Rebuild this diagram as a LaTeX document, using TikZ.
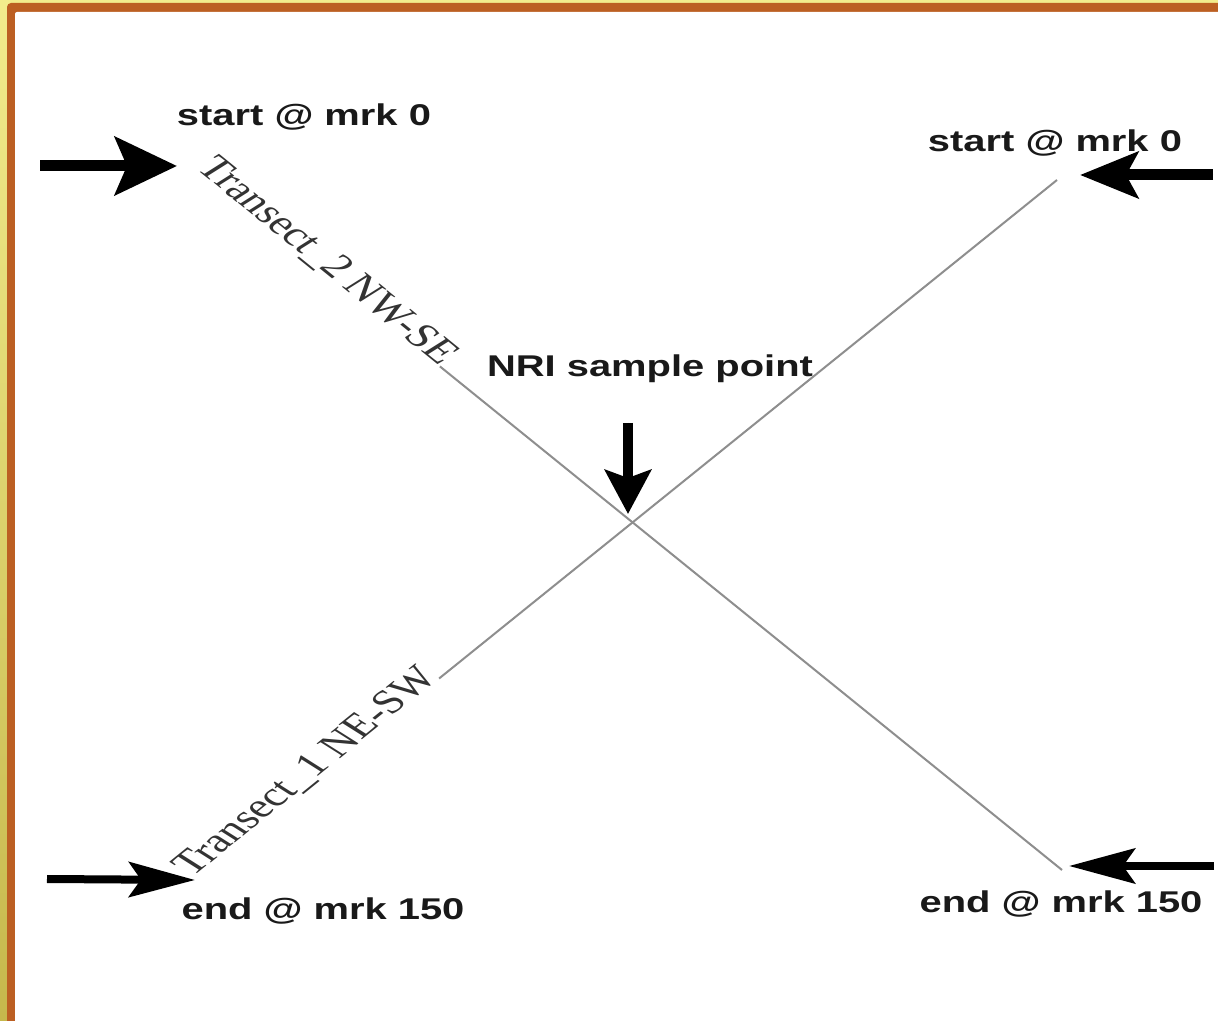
\documentclass[tikz,border=0pt]{standalone}
\usepackage{fontspec}
\setmainfont{Liberation Sans}[FakeStretch=1.33]
\newfontfamily\transectfont{Liberation Serif}
\usetikzlibrary{arrows.meta}

\definecolor{frameorange}{HTML}{BC5F22}
\definecolor{frameyellowtop}{HTML}{F2EC8C}
\definecolor{frameyellowbot}{HTML}{C6B84C}
\definecolor{transectgray}{HTML}{8E8E8E}

\tikzset{
  marker/.style={font=\bfseries\fontsize{30}{30}\selectfont, text=black!90, inner sep=0pt, anchor=base},
  transectlbl/.style={font=\transectfont\fontsize{34}{34}\selectfont, text=black!80,
                      inner sep=0pt, anchor=base west},
  transect/.style={draw=transectgray, line width=2pt},
  pointer/.style={draw=black, fill=black, line width=#1},
  bighead/.style={-{Stealth[length=62pt, width=58pt, inset=12pt]}},
  midhead/.style={-{Stealth[length=58pt, width=46pt, inset=12pt]}},
  downhead/.style={-{Stealth[length=44pt, width=46pt, inset=8pt]}},
  smallhead/.style={-{Stealth[length=66pt, width=35pt, inset=12pt]}}
}

\begin{document}
\begin{tikzpicture}[x=1pt, y=1pt]
  \useasboundingbox (0,0) rectangle (1218,1020);

  % frame: yellow edge, orange border, white sheet
  \begin{scope}
    \clip (0,0) rectangle (1218,1020);
    \shade[top color=frameyellowtop, bottom color=frameyellowbot] (0,0) rectangle (1218,1020);
    \fill[frameorange, rounded corners=4pt] (7,1017) rectangle (1240,-20);
    \fill[white, rounded corners=2pt] (15,1008) rectangle (1240,-20);
  \end{scope}

  % transect end points
  \coordinate (nw) at (195,852);
  \coordinate (se) at (1062,150);
  \coordinate (ne) at (1057,840);
  \coordinate (sw) at (192,142);

  % transect labels, written along their lines
  \begin{scope}[shift={(sw)}]
    \node[transectlbl, xscale=1.4, rotate=48.5] (lblone) at (0,0) {Transect\_1 NE-SW};
  \end{scope}
  \begin{scope}[shift={(nw)}]
    \node[transectlbl, xscale=1.4, rotate=-48.6] (lbltwo) at (0,0) {Transect\_2 NW-SE};
  \end{scope}

  % transect lines
  \draw[transect] (ne) -- (lblone.base east);
  \draw[transect] (lbltwo.base east) -- (se);

  % marker texts
  \node[marker] (startnw) at (304,894) {start @ mrk 0};
  \node[marker] (startne) at (1055,868) {start @ mrk 0};
  \node[marker] (nri)     at (650,643) {NRI sample point};
  \node[marker] (endsw)   at (323,100) {end @ mrk 150};
  \node[marker] (endse)   at (1061,107) {end @ mrk 150};

  % pointer arrows
  \coordinate (p1tail) at (40,854);   \coordinate (p1tip) at (177,854);
  \coordinate (p2tail) at (1213,845); \coordinate (p2tip) at (1080,845);
  \coordinate (p3tail) at (628,597);  \coordinate (p3tip) at (628,506);
  \coordinate (p4tail) at (47,141);   \coordinate (p4tip) at (195,140);
  \coordinate (p5tail) at (1214,154); \coordinate (p5tip) at (1069,154);

  \draw[pointer=11pt, bighead]  (p1tail) -- (p1tip);
  \draw[pointer=11pt, midhead]  (p2tail) -- (p2tip);
  \draw[pointer=10pt, downhead] (p3tail) -- (p3tip);
  \draw[pointer=8pt, smallhead] (p4tail) -- (p4tip);
  \draw[pointer=8pt, smallhead] (p5tail) -- (p5tip);
\end{tikzpicture}
\end{document}
